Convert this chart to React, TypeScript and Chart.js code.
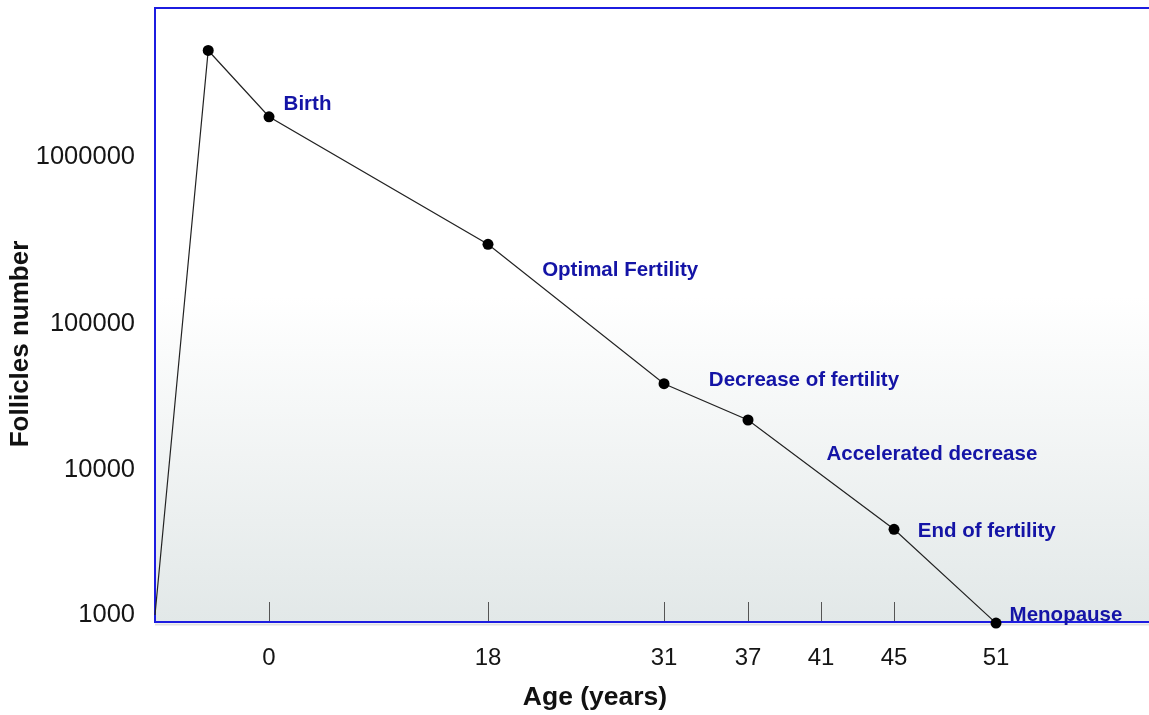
import React, { useEffect, useRef } from 'react';
import { Chart, LinearScale, registerables } from 'chart.js';

// ---- data ----
const ages = [-0.75, -0.4, 0, 18, 31, 37, 45, 51];
const follicles = [1000, 4400000, 1750000, 300000, 39000, 22000, 3900, 880];

const xTickAges = [0, 18, 31, 37, 41, 45, 51];
const xMarkAges = [0, 18, 31, 37, 41, 45];
const yTickValues = [1000, 10000, 100000, 1000000];

const xTitle = 'Age (years)';
const yTitle = 'Follicles number';

const stageLabels = ['Birth', 'Optimal Fertility', 'Decrease of fertility', 'Accelerated decrease', 'End of fertility', 'Menopause'];
const stageAges = [1.2, 22, 34.2, 41.3, 46.4, 51.8];
const stageValues = [2080000, 211000, 41000, 12700, 3800, 1000];

// ---- non-uniform axes of the original figure (value -> fraction of axis length) ----
const KNOTS: Record<string, { values: number[]; fractions: number[] }> = {
  x: {
    values: [-0.75, 0, 18, 31, 37, 41, 45, 51, 60],
    fractions: [0, 0.1147, 0.335, 0.5121, 0.5966, 0.67, 0.7435, 0.8461, 1],
  },
  y: {
    values: [2.952, 3, 4, 5, 6, 6.9],
    fractions: [0, 0.0114, 0.2476, 0.4853, 0.7573, 1],
  },
};

function interp(v: number, xs: number[], ys: number[]) {
  const n = xs.length;
  let i = 0;
  if (v <= xs[0]) i = 0;
  else if (v >= xs[n - 1]) i = n - 2;
  else {
    while (i < n - 2 && v > xs[i + 1]) i++;
  }
  const t = (v - xs[i]) / (xs[i + 1] - xs[i]);
  return ys[i] + t * (ys[i + 1] - ys[i]);
}

class PiecewiseScale extends LinearScale {
  static id = 'piecewise';
  static defaults = LinearScale.defaults;
  getPixelForValue(value: any) {
    if (value === null || value === undefined || isNaN(value)) return NaN;
    const k = KNOTS[(this as any).id];
    return (this as any).getPixelForDecimal(interp(value, k.values, k.fractions));
  }
  getValueForPixel(pixel: number) {
    const k = KNOTS[(this as any).id];
    return interp((this as any).getDecimalForPixel(pixel), k.fractions, k.values);
  }
}

Chart.register(...registerables, PiecewiseScale as any);

const FONT = "'Liberation Sans', Arial, Helvetica, sans-serif";
const FRAME_BLUE = '#1c1ce0';
const LABEL_BLUE = '#1414a6';

const decorPlugin = {
  id: 'decor',
  beforeDatasetsDraw(chart: any) {
    const { ctx, chartArea } = chart;
    const { left, right, top, bottom } = chartArea;
    ctx.save();
    // background gradient
    const g = ctx.createLinearGradient(0, top, 0, bottom);
    g.addColorStop(0, '#ffffff');
    g.addColorStop(0.47, '#ffffff');
    g.addColorStop(1, '#e2e8e8');
    ctx.fillStyle = g;
    ctx.fillRect(left, top, right - left, bottom - top);
    // inward tick marks on x axis
    const xs = chart.scales.x;
    ctx.strokeStyle = '#555555';
    ctx.lineWidth = 1;
    xMarkAges.forEach((a) => {
      const px = Math.round(xs.getPixelForValue(a)) + 0.5;
      ctx.beginPath();
      ctx.moveTo(px, bottom - 20);
      ctx.lineTo(px, bottom);
      ctx.stroke();
    });
    // shadow under axis
    ctx.strokeStyle = 'rgba(0,0,0,0.12)';
    ctx.lineWidth = 2;
    ctx.beginPath();
    ctx.moveTo(left, bottom + 2.5);
    ctx.lineTo(right, bottom + 2.5);
    ctx.stroke();
    // frame (left, top, bottom)
    ctx.strokeStyle = FRAME_BLUE;
    ctx.lineWidth = 2;
    ctx.beginPath();
    ctx.moveTo(right, top);
    ctx.lineTo(left, top);
    ctx.lineTo(left, bottom);
    ctx.lineTo(right, bottom);
    ctx.stroke();
    ctx.restore();
  },
  afterDatasetsDraw(chart: any) {
    const { ctx } = chart;
    const xs = chart.scales.x;
    const ys = chart.scales.y;
    ctx.save();
    // stage annotations
    ctx.fillStyle = LABEL_BLUE;
    ctx.textAlign = 'left';
    ctx.textBaseline = 'middle';
    ctx.font = `bold 20.5px ${FONT}`;
    stageLabels.forEach((t, i) => {
      const px = xs.getPixelForValue(stageAges[i]);
      const py = ys.getPixelForValue(Math.log10(stageValues[i]));
      ctx.fillText(t, px, py);
    });
    // axis titles (placed as in the original, not centred on the plot)
    ctx.fillStyle = '#111111';
    ctx.textAlign = 'center';
    ctx.font = `bold 26.5px ${FONT}`;
    ctx.fillText(xTitle, 595, 698);
    ctx.save();
    ctx.translate(21, 344);
    ctx.rotate(-Math.PI / 2);
    ctx.font = `bold 26px ${FONT}`;
    ctx.fillText(yTitle, 0, 0);
    ctx.restore();
    ctx.restore();
  },
};

export default function App() {
  const ref = useRef<HTMLCanvasElement | null>(null);
  useEffect(() => {
    document.body.style.margin = '0';
    const canvas = ref.current;
    if (!canvas) return;
    const chart = new Chart(canvas, {
      type: 'line',
      data: {
        datasets: [
          {
            data: ages.map((a, i) => ({ x: a, y: Math.log10(follicles[i]) })),
            borderColor: '#222222',
            borderWidth: 1.2,
            pointRadius: (c: any) => (c.dataIndex === 0 ? 0 : 5.5),
            pointBackgroundColor: '#000000',
            pointBorderColor: '#000000',
            pointBorderWidth: 0,
            tension: 0,
            clip: false,
          } as any,
        ],
      },
      options: {
        animation: false,
        responsive: false,
        layout: { autoPadding: false, padding: { top: 8, left: 0, right: 0, bottom: 0 } },
        plugins: { legend: { display: false }, tooltip: { enabled: false } },
        scales: {
          x: {
            type: 'piecewise' as any,
            min: -0.75,
            max: 60,
            bounds: 'data',
            afterBuildTicks: (s: any) => {
              s.ticks = xTickAges.map((v) => ({ value: v }));
            },
            afterFit: (s: any) => {
              s.height = 93;
              s.paddingLeft = 0;
              s.paddingRight = 0;
            },
            grid: { display: false, drawTicks: false },
            border: { display: false },
            ticks: {
              autoSkip: false,
              maxRotation: 0,
              minRotation: 0,
              padding: 22,
              color: '#151515',
              font: { family: FONT, size: 24 },
              callback: (v: any) => String(v),
            },
            title: { display: false },
          } as any,
          y: {
            type: 'piecewise' as any,
            min: 2.952,
            max: 6.9,
            bounds: 'data',
            afterBuildTicks: (s: any) => {
              s.ticks = yTickValues.map((v) => ({ value: Math.log10(v) }));
            },
            afterFit: (s: any) => {
              s.width = 155;
              s.paddingTop = 0;
              s.paddingBottom = 0;
            },
            grid: { display: false, drawTicks: false },
            border: { display: false },
            ticks: {
              autoSkip: false,
              padding: 20,
              color: '#151515',
              font: { family: FONT, size: 25.5 },
              callback: (_v: any, i: number) => String(yTickValues[i]),
            },
            title: { display: false },
          } as any,
        },
      },
      plugins: [decorPlugin],
    });
    return () => chart.destroy();
  }, []);
  return (
    <div style={{ width: 1149, height: 715 }}>
      <canvas ref={ref} width={1149} height={715} style={{ display: 'block' }} />
    </div>
  );
}
